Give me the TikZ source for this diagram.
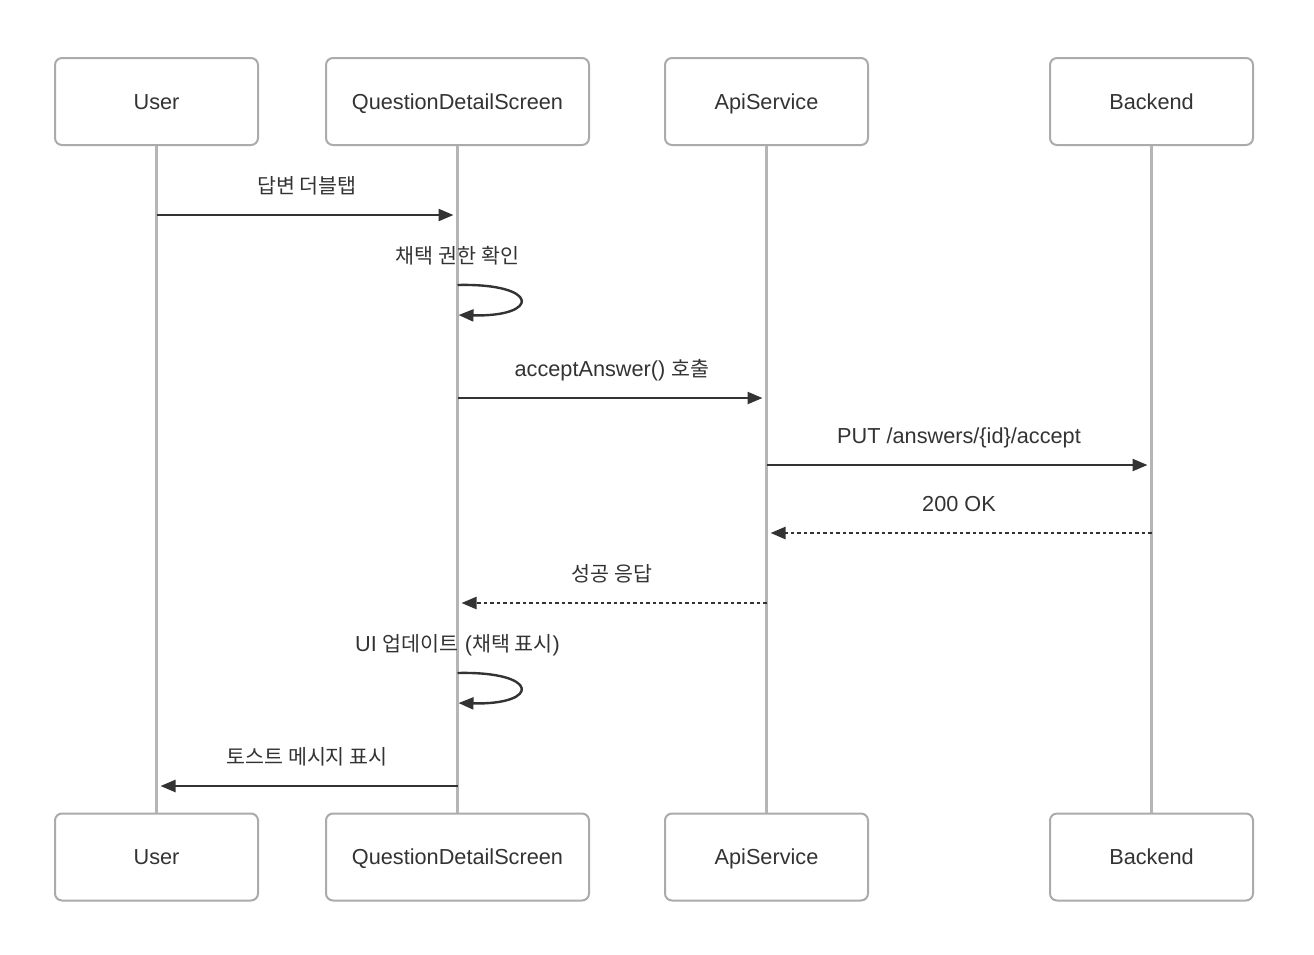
\documentclass[tikz,border=0pt]{standalone}
\usepackage{fontspec}
\setmainfont{Liberation Sans}
\newfontfamily\krfont[Scale=0.95]{Noto Sans CJK KR}
\newcommand{\ko}[1]{{\krfont #1}}
\usetikzlibrary{arrows.meta}
\definecolor{ink}{HTML}{333333}
\definecolor{boxline}{HTML}{ABABAB}
\definecolor{lifeline}{HTML}{B5B5B5}

\begin{document}
\begin{tikzpicture}[x=1pt, y=-1pt, >={Triangle[length=15pt,width=12pt]},
    txt/.style={text=ink, font=\fontsize{21.7}{26}\selectfont, text height=18pt, text depth=3pt},
    actor/.style={txt, draw=boxline, line width=2pt, rounded corners=7pt, fill=white,
        minimum width=203pt, minimum height=87pt},
    life/.style={draw=lifeline, line width=2.5pt},
    msg/.style={draw=ink, line width=2.4pt, ->, shorten >=4pt},
    reply/.style={msg, dash pattern=on 3.5pt off 3pt},
    lbl/.style={txt, midway, yshift=29pt}]
				\useasboundingbox (0,0) rectangle (1314,954);
				% participants
				\node[actor] (user) at (156.5,101.5) {User};
				\node[actor, minimum width=263pt] (screen) at (457.5,101.5) {QuestionDetailScreen};
				\node[actor] (api) at (766.5,101.5) {ApiService};
				\node[actor] (backend) at (1151.5,101.5) {Backend};
				\node[actor] (userb) at (156.5,857) {User};
				\node[actor, minimum width=263pt] (screenb) at (457.5,857) {QuestionDetailScreen};
				\node[actor] (apib) at (766.5,857) {ApiService};
				\node[actor] (backendb) at (1151.5,857) {Backend};
				\draw[life] (user) -- (userb);
				\draw[life] (screen) -- (screenb);
				\draw[life] (api) -- (apib);
				\draw[life] (backend) -- (backendb);
				% message points
				\coordinate (tapu) at (156.5,215);
				\coordinate (taps) at (457.5,215);
				\coordinate (chka) at (457.5,285);
				\coordinate (chkb) at (457.5,315);
				\coordinate (calls) at (457.5,398);
				\coordinate (calla) at (766.5,398);
				\coordinate (puta) at (766.5,465);
				\coordinate (putb) at (1151.5,465);
				\coordinate (okb) at (1151.5,533);
				\coordinate (oka) at (766.5,533);
				\coordinate (resa) at (766.5,603);
				\coordinate (ress) at (457.5,603);
				\coordinate (uia) at (457.5,673);
				\coordinate (uib) at (457.5,703);
				\coordinate (toasts) at (457.5,786);
				\coordinate (toastu) at (156.5,786);
				% messages
				\draw[msg] (tapu) to node[lbl] {\ko{답변 더블탭}} (taps);
				\node[txt] (chklbl) at (457.5,256) {\ko{채택 권한 확인}};
				\draw[msg, shorten >=1pt] (chka) .. controls +(83,-2) and +(83,2) .. (chkb);
				\draw[msg] (calls) to node[lbl] {acceptAnswer() \ko{호출}} (calla);
				\draw[msg] (puta) to node[lbl] {PUT /answers/\{id\}/accept} (putb);
				\draw[reply] (okb) to node[lbl] {200 OK} (oka);
				\draw[reply] (resa) to node[lbl] {\ko{성공 응답}} (ress);
				\node[txt] (uilbl) at (457.5,644) {UI \ko{업데이트} (\ko{채택 표시})};
				\draw[msg, shorten >=1pt] (uia) .. controls +(83,-2) and +(83,2) .. (uib);
				\draw[msg] (toasts) to node[lbl] {\ko{토스트 메시지 표시}} (toastu);
			\end{tikzpicture}
\end{document}
